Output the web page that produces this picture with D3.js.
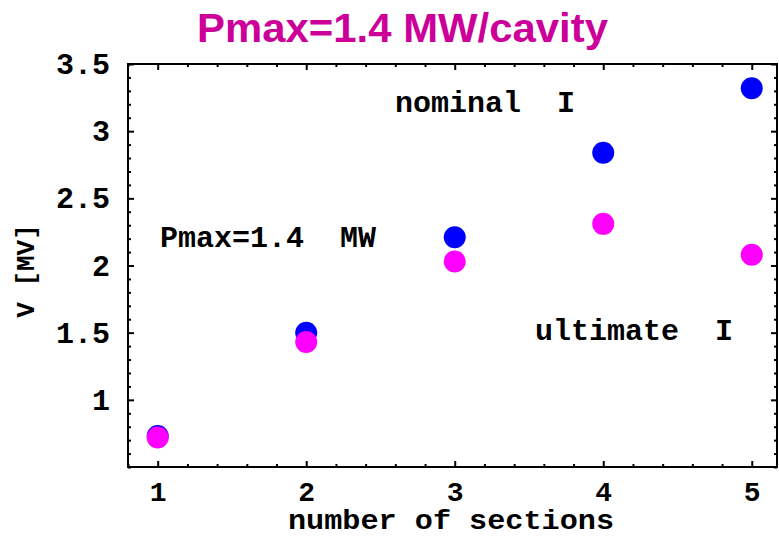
<!DOCTYPE html>
<html>
<head>
<meta charset="utf-8">
<script src="https://cdn.jsdelivr.net/npm/d3@7"></script>
<style>
  body { margin: 0; background: #fff; }
  svg text { font-family: "Liberation Mono", "Courier New", monospace; font-weight: bold; }
</style>
</head>
<body>
<svg width="779" height="536"></svg>
<script>
// data
var sections = [1, 2, 3, 4, 5];
var nominalV = [0.73, 1.50, 2.21, 2.84, 3.32];
var ultimateV = [0.72, 1.43, 2.03, 2.31, 2.08];
var xTicks = [1, 2, 3, 4, 5];
var yTicks = [1, 1.5, 2, 2.5, 3, 3.5];

var svg = d3.select('svg');

var x = d3.scaleLinear().domain([0.8, 5.17]).range([128, 777]);
var y = d3.scaleLinear().domain([0.5, 3.5]).range([467, 64]);

var x0 = x.range()[0], x1 = x.range()[1];
var y0 = y.range()[0], y1 = y.range()[1];

var minorX = d3.range(0.8, 5.2, 0.2).map(d => +d.toFixed(1)).filter(d => xTicks.indexOf(d) < 0);
var minorY = d3.range(0.5, 3.51, 0.1).map(d => +d.toFixed(1)).filter(d => yTicks.indexOf(d) < 0);

function style(g) {
  g.select('.domain').remove();
  g.selectAll('line').attr('stroke', '#000').attr('stroke-width', 2);
  g.selectAll('text').attr('fill', '#000').style('font-size', '30px');
}

// bottom
svg.append('g').attr('transform', `translate(0,${y0})`)
  .call(d3.axisBottom(x).tickValues(xTicks).tickSize(-6).tickPadding(14).tickFormat(d3.format('d')))
  .call(style).selectAll('text').style('font-size', '28px').attr('dy', '0.71em');
svg.append('g').attr('transform', `translate(0,${y0})`)
  .call(d3.axisBottom(x).tickValues(minorX).tickSize(-3).tickFormat(''))
  .call(style);
// top
svg.append('g').attr('transform', `translate(0,${y1})`)
  .call(d3.axisTop(x).tickValues(xTicks).tickSize(-6).tickFormat(''))
  .call(style);
svg.append('g').attr('transform', `translate(0,${y1})`)
  .call(d3.axisTop(x).tickValues(minorX).tickSize(-3).tickFormat(''))
  .call(style);
// left
svg.append('g').attr('transform', `translate(${x0},0)`)
  .call(d3.axisLeft(y).tickValues(yTicks).tickSize(-6).tickPadding(18).tickFormat(d => d))
  .call(style);
svg.append('g').attr('transform', `translate(${x0},0)`)
  .call(d3.axisLeft(y).tickValues(minorY).tickSize(-3).tickFormat(''))
  .call(style);
// right
svg.append('g').attr('transform', `translate(${x1},0)`)
  .call(d3.axisRight(y).tickValues(yTicks).tickSize(-6).tickFormat(''))
  .call(style);
svg.append('g').attr('transform', `translate(${x1},0)`)
  .call(d3.axisRight(y).tickValues(minorY).tickSize(-3).tickFormat(''))
  .call(style);

// frame
svg.append('rect')
  .attr('x', x0).attr('y', y1)
  .attr('width', x1 - x0).attr('height', y0 - y1)
  .attr('fill', 'none').attr('stroke', '#000').attr('stroke-width', 2);

// points
var pts = [
  {vals: nominalV, color: '#0000ff'},
  {vals: ultimateV, color: '#ff00ff'}
];
pts.forEach(function(s) {
  svg.append('g').selectAll('circle')
    .data(sections.map((d, i) => ({x: d, v: s.vals[i]})))
    .enter().append('circle')
    .attr('cx', d => x(d.x))
    .attr('cy', d => y(d.v))
    .attr('r', 11)
    .attr('fill', s.color);
});

// annotations
svg.append('text').attr('x', 395).attr('y', 112).style('font-size', '30px').attr('xml:space', 'preserve').text('nominal  I');
svg.append('text').attr('x', 160).attr('y', 247).style('font-size', '30px').attr('xml:space', 'preserve').text('Pmax=1.4  MW');
svg.append('text').attr('x', 535).attr('y', 340).style('font-size', '30px').attr('xml:space', 'preserve').text('ultimate  I');

// axis labels
svg.append('text').attr('x', 288).attr('y', 529)
  .attr('textLength', 326).attr('lengthAdjust', 'spacingAndGlyphs')
  .style('font-size', '27px').text('number of sections');
svg.append('text').attr('transform', 'translate(34,271) rotate(-90)').attr('text-anchor', 'middle')
  .style('font-size', '26px').text('V [MV]');

// title
svg.append('text').attr('x', 197).attr('y', 42)
  .attr('textLength', 411).attr('lengthAdjust', 'spacingAndGlyphs')
  .style('font-family', '"Liberation Sans", Arial, sans-serif')
  .style('font-size', '40px').style('font-weight', 'bold')
  .attr('fill', '#cc0099').text('Pmax=1.4 MW/cavity');
</script>
</body>
</html>
